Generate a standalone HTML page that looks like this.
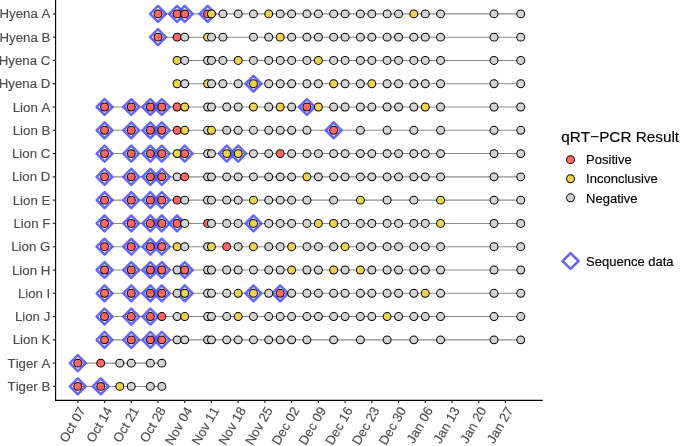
<!DOCTYPE html>
<html lang="en"><head><meta charset="utf-8"><title>qRT-PCR results timeline</title>
<style>html,body{margin:0;padding:0;background:#fff}svg{display:block;will-change:transform}text{font-kerning:none}</style></head>
<body>
<svg width="685" height="446" viewBox="0 0 685 446">
<rect width="685" height="446" fill="#fff"/>
<g stroke="#8C8C8C" stroke-width="1.07" fill="none">
<path d="M157.99 13.89H520.75"/>
<path d="M157.99 37.17H520.75"/>
<path d="M177.08 60.45H520.75"/>
<path d="M177.08 83.74H520.75"/>
<path d="M104.53 107.02H520.75"/>
<path d="M104.53 130.3H520.75"/>
<path d="M104.53 153.58H520.75"/>
<path d="M104.53 176.87H520.75"/>
<path d="M104.53 200.15H520.75"/>
<path d="M104.53 223.43H520.75"/>
<path d="M104.53 246.71H520.75"/>
<path d="M104.53 270H520.75"/>
<path d="M104.53 293.28H520.75"/>
<path d="M104.53 316.56H520.75"/>
<path d="M104.53 339.84H520.75"/>
<path d="M77.8 363.13H161.81"/>
<path d="M77.8 386.41H161.81"/>
</g>
<g stroke="#5555FF" stroke-opacity="0.9" stroke-width="2.55" fill="none" stroke-linejoin="round">
<path d="M157.99 5.94L165.94 13.89L157.99 21.84L150.04 13.89Z"/>
<path d="M177.08 5.94L185.03 13.89L177.08 21.84L169.13 13.89Z"/>
<path d="M184.72 5.94L192.67 13.89L184.72 21.84L176.77 13.89Z"/>
<path d="M207.63 5.94L215.58 13.89L207.63 21.84L199.68 13.89Z"/>
<path d="M157.99 29.22L165.94 37.17L157.99 45.12L150.04 37.17Z"/>
<path d="M253.45 75.79L261.4 83.74L253.45 91.69L245.5 83.74Z"/>
<path d="M104.53 99.07L112.48 107.02L104.53 114.97L96.58 107.02Z"/>
<path d="M131.26 99.07L139.21 107.02L131.26 114.97L123.31 107.02Z"/>
<path d="M150.35 99.07L158.3 107.02L150.35 114.97L142.4 107.02Z"/>
<path d="M161.81 99.07L169.76 107.02L161.81 114.97L153.86 107.02Z"/>
<path d="M306.91 99.07L314.86 107.02L306.91 114.97L298.96 107.02Z"/>
<path d="M104.53 122.35L112.48 130.3L104.53 138.25L96.58 130.3Z"/>
<path d="M131.26 122.35L139.21 130.3L131.26 138.25L123.31 130.3Z"/>
<path d="M150.35 122.35L158.3 130.3L150.35 138.25L142.4 130.3Z"/>
<path d="M161.81 122.35L169.76 130.3L161.81 138.25L153.86 130.3Z"/>
<path d="M333.64 122.35L341.59 130.3L333.64 138.25L325.69 130.3Z"/>
<path d="M104.53 145.63L112.48 153.58L104.53 161.53L96.58 153.58Z"/>
<path d="M131.26 145.63L139.21 153.58L131.26 161.53L123.31 153.58Z"/>
<path d="M150.35 145.63L158.3 153.58L150.35 161.53L142.4 153.58Z"/>
<path d="M161.81 145.63L169.76 153.58L161.81 161.53L153.86 153.58Z"/>
<path d="M184.72 145.63L192.67 153.58L184.72 161.53L176.77 153.58Z"/>
<path d="M226.72 145.63L234.67 153.58L226.72 161.53L218.77 153.58Z"/>
<path d="M238.18 145.63L246.13 153.58L238.18 161.53L230.23 153.58Z"/>
<path d="M104.53 168.92L112.48 176.87L104.53 184.82L96.58 176.87Z"/>
<path d="M131.26 168.92L139.21 176.87L131.26 184.82L123.31 176.87Z"/>
<path d="M150.35 168.92L158.3 176.87L150.35 184.82L142.4 176.87Z"/>
<path d="M161.81 168.92L169.76 176.87L161.81 184.82L153.86 176.87Z"/>
<path d="M104.53 192.2L112.48 200.15L104.53 208.1L96.58 200.15Z"/>
<path d="M131.26 192.2L139.21 200.15L131.26 208.1L123.31 200.15Z"/>
<path d="M150.35 192.2L158.3 200.15L150.35 208.1L142.4 200.15Z"/>
<path d="M161.81 192.2L169.76 200.15L161.81 208.1L153.86 200.15Z"/>
<path d="M104.53 215.48L112.48 223.43L104.53 231.38L96.58 223.43Z"/>
<path d="M131.26 215.48L139.21 223.43L131.26 231.38L123.31 223.43Z"/>
<path d="M150.35 215.48L158.3 223.43L150.35 231.38L142.4 223.43Z"/>
<path d="M161.81 215.48L169.76 223.43L161.81 231.38L153.86 223.43Z"/>
<path d="M177.08 215.48L185.03 223.43L177.08 231.38L169.13 223.43Z"/>
<path d="M253.45 215.48L261.4 223.43L253.45 231.38L245.5 223.43Z"/>
<path d="M104.53 238.76L112.48 246.71L104.53 254.66L96.58 246.71Z"/>
<path d="M131.26 238.76L139.21 246.71L131.26 254.66L123.31 246.71Z"/>
<path d="M150.35 238.76L158.3 246.71L150.35 254.66L142.4 246.71Z"/>
<path d="M161.81 238.76L169.76 246.71L161.81 254.66L153.86 246.71Z"/>
<path d="M104.53 262.05L112.48 270L104.53 277.95L96.58 270Z"/>
<path d="M131.26 262.05L139.21 270L131.26 277.95L123.31 270Z"/>
<path d="M150.35 262.05L158.3 270L150.35 277.95L142.4 270Z"/>
<path d="M161.81 262.05L169.76 270L161.81 277.95L153.86 270Z"/>
<path d="M184.72 262.05L192.67 270L184.72 277.95L176.77 270Z"/>
<path d="M104.53 285.33L112.48 293.28L104.53 301.23L96.58 293.28Z"/>
<path d="M131.26 285.33L139.21 293.28L131.26 301.23L123.31 293.28Z"/>
<path d="M150.35 285.33L158.3 293.28L150.35 301.23L142.4 293.28Z"/>
<path d="M161.81 285.33L169.76 293.28L161.81 301.23L153.86 293.28Z"/>
<path d="M184.72 285.33L192.67 293.28L184.72 301.23L176.77 293.28Z"/>
<path d="M253.45 285.33L261.4 293.28L253.45 301.23L245.5 293.28Z"/>
<path d="M280.18 285.33L288.13 293.28L280.18 301.23L272.23 293.28Z"/>
<path d="M104.53 308.61L112.48 316.56L104.53 324.51L96.58 316.56Z"/>
<path d="M131.26 308.61L139.21 316.56L131.26 324.51L123.31 316.56Z"/>
<path d="M150.35 308.61L158.3 316.56L150.35 324.51L142.4 316.56Z"/>
<path d="M104.53 331.89L112.48 339.84L104.53 347.79L96.58 339.84Z"/>
<path d="M131.26 331.89L139.21 339.84L131.26 347.79L123.31 339.84Z"/>
<path d="M150.35 331.89L158.3 339.84L150.35 347.79L142.4 339.84Z"/>
<path d="M161.81 331.89L169.76 339.84L161.81 347.79L153.86 339.84Z"/>
<path d="M77.8 355.18L85.75 363.13L77.8 371.08L69.85 363.13Z"/>
<path d="M77.8 378.46L85.75 386.41L77.8 394.36L69.85 386.41Z"/>
<path d="M100.71 378.46L108.66 386.41L100.71 394.36L92.76 386.41Z"/>
</g>
<g>
<circle cx="157.99" cy="13.89" r="4.45"/><circle cx="157.99" cy="13.89" r="3.45" fill="#FF6666"/>
<circle cx="177.08" cy="13.89" r="4.45"/><circle cx="177.08" cy="13.89" r="3.45" fill="#FF6666"/>
<circle cx="184.72" cy="13.89" r="4.45"/><circle cx="184.72" cy="13.89" r="3.45" fill="#FF6666"/>
<circle cx="207.63" cy="13.89" r="4.45"/><circle cx="207.63" cy="13.89" r="3.45" fill="#FF6666"/>
<circle cx="211.45" cy="13.89" r="4.45"/><circle cx="211.45" cy="13.89" r="3.45" fill="#ECD350"/>
<circle cx="222.9" cy="13.89" r="4.45"/><circle cx="222.9" cy="13.89" r="3.45" fill="#D3D3D3"/>
<circle cx="238.18" cy="13.89" r="4.45"/><circle cx="238.18" cy="13.89" r="3.45" fill="#D3D3D3"/>
<circle cx="253.45" cy="13.89" r="4.45"/><circle cx="253.45" cy="13.89" r="3.45" fill="#D3D3D3"/>
<circle cx="268.72" cy="13.89" r="4.45"/><circle cx="268.72" cy="13.89" r="3.45" fill="#ECD350"/>
<circle cx="280.18" cy="13.89" r="4.45"/><circle cx="280.18" cy="13.89" r="3.45" fill="#D3D3D3"/>
<circle cx="291.64" cy="13.89" r="4.45"/><circle cx="291.64" cy="13.89" r="3.45" fill="#D3D3D3"/>
<circle cx="306.91" cy="13.89" r="4.45"/><circle cx="306.91" cy="13.89" r="3.45" fill="#D3D3D3"/>
<circle cx="318.37" cy="13.89" r="4.45"/><circle cx="318.37" cy="13.89" r="3.45" fill="#D3D3D3"/>
<circle cx="333.64" cy="13.89" r="4.45"/><circle cx="333.64" cy="13.89" r="3.45" fill="#D3D3D3"/>
<circle cx="345.09" cy="13.89" r="4.45"/><circle cx="345.09" cy="13.89" r="3.45" fill="#D3D3D3"/>
<circle cx="360.37" cy="13.89" r="4.45"/><circle cx="360.37" cy="13.89" r="3.45" fill="#D3D3D3"/>
<circle cx="371.82" cy="13.89" r="4.45"/><circle cx="371.82" cy="13.89" r="3.45" fill="#D3D3D3"/>
<circle cx="387.1" cy="13.89" r="4.45"/><circle cx="387.1" cy="13.89" r="3.45" fill="#D3D3D3"/>
<circle cx="398.55" cy="13.89" r="4.45"/><circle cx="398.55" cy="13.89" r="3.45" fill="#D3D3D3"/>
<circle cx="413.83" cy="13.89" r="4.45"/><circle cx="413.83" cy="13.89" r="3.45" fill="#ECD350"/>
<circle cx="425.28" cy="13.89" r="4.45"/><circle cx="425.28" cy="13.89" r="3.45" fill="#D3D3D3"/>
<circle cx="440.56" cy="13.89" r="4.45"/><circle cx="440.56" cy="13.89" r="3.45" fill="#D3D3D3"/>
<circle cx="494.02" cy="13.89" r="4.45"/><circle cx="494.02" cy="13.89" r="3.45" fill="#D3D3D3"/>
<circle cx="520.75" cy="13.89" r="4.45"/><circle cx="520.75" cy="13.89" r="3.45" fill="#D3D3D3"/>
<circle cx="157.99" cy="37.17" r="4.45"/><circle cx="157.99" cy="37.17" r="3.45" fill="#FF6666"/>
<circle cx="177.08" cy="37.17" r="4.45"/><circle cx="177.08" cy="37.17" r="3.45" fill="#FF6666"/>
<circle cx="184.72" cy="37.17" r="4.45"/><circle cx="184.72" cy="37.17" r="3.45" fill="#D3D3D3"/>
<circle cx="207.63" cy="37.17" r="4.45"/><circle cx="207.63" cy="37.17" r="3.45" fill="#ECD350"/>
<circle cx="211.45" cy="37.17" r="4.45"/><circle cx="211.45" cy="37.17" r="3.45" fill="#D3D3D3"/>
<circle cx="222.9" cy="37.17" r="4.45"/><circle cx="222.9" cy="37.17" r="3.45" fill="#D3D3D3"/>
<circle cx="253.45" cy="37.17" r="4.45"/><circle cx="253.45" cy="37.17" r="3.45" fill="#D3D3D3"/>
<circle cx="268.72" cy="37.17" r="4.45"/><circle cx="268.72" cy="37.17" r="3.45" fill="#D3D3D3"/>
<circle cx="280.18" cy="37.17" r="4.45"/><circle cx="280.18" cy="37.17" r="3.45" fill="#ECD350"/>
<circle cx="291.64" cy="37.17" r="4.45"/><circle cx="291.64" cy="37.17" r="3.45" fill="#D3D3D3"/>
<circle cx="306.91" cy="37.17" r="4.45"/><circle cx="306.91" cy="37.17" r="3.45" fill="#D3D3D3"/>
<circle cx="318.37" cy="37.17" r="4.45"/><circle cx="318.37" cy="37.17" r="3.45" fill="#D3D3D3"/>
<circle cx="333.64" cy="37.17" r="4.45"/><circle cx="333.64" cy="37.17" r="3.45" fill="#D3D3D3"/>
<circle cx="345.09" cy="37.17" r="4.45"/><circle cx="345.09" cy="37.17" r="3.45" fill="#D3D3D3"/>
<circle cx="360.37" cy="37.17" r="4.45"/><circle cx="360.37" cy="37.17" r="3.45" fill="#D3D3D3"/>
<circle cx="371.82" cy="37.17" r="4.45"/><circle cx="371.82" cy="37.17" r="3.45" fill="#D3D3D3"/>
<circle cx="387.1" cy="37.17" r="4.45"/><circle cx="387.1" cy="37.17" r="3.45" fill="#D3D3D3"/>
<circle cx="398.55" cy="37.17" r="4.45"/><circle cx="398.55" cy="37.17" r="3.45" fill="#D3D3D3"/>
<circle cx="413.83" cy="37.17" r="4.45"/><circle cx="413.83" cy="37.17" r="3.45" fill="#D3D3D3"/>
<circle cx="425.28" cy="37.17" r="4.45"/><circle cx="425.28" cy="37.17" r="3.45" fill="#D3D3D3"/>
<circle cx="440.56" cy="37.17" r="4.45"/><circle cx="440.56" cy="37.17" r="3.45" fill="#D3D3D3"/>
<circle cx="494.02" cy="37.17" r="4.45"/><circle cx="494.02" cy="37.17" r="3.45" fill="#D3D3D3"/>
<circle cx="520.75" cy="37.17" r="4.45"/><circle cx="520.75" cy="37.17" r="3.45" fill="#D3D3D3"/>
<circle cx="177.08" cy="60.45" r="4.45"/><circle cx="177.08" cy="60.45" r="3.45" fill="#ECD350"/>
<circle cx="184.72" cy="60.45" r="4.45"/><circle cx="184.72" cy="60.45" r="3.45" fill="#D3D3D3"/>
<circle cx="207.63" cy="60.45" r="4.45"/><circle cx="207.63" cy="60.45" r="3.45" fill="#D3D3D3"/>
<circle cx="211.45" cy="60.45" r="4.45"/><circle cx="211.45" cy="60.45" r="3.45" fill="#D3D3D3"/>
<circle cx="222.9" cy="60.45" r="4.45"/><circle cx="222.9" cy="60.45" r="3.45" fill="#D3D3D3"/>
<circle cx="238.18" cy="60.45" r="4.45"/><circle cx="238.18" cy="60.45" r="3.45" fill="#ECD350"/>
<circle cx="253.45" cy="60.45" r="4.45"/><circle cx="253.45" cy="60.45" r="3.45" fill="#D3D3D3"/>
<circle cx="268.72" cy="60.45" r="4.45"/><circle cx="268.72" cy="60.45" r="3.45" fill="#D3D3D3"/>
<circle cx="280.18" cy="60.45" r="4.45"/><circle cx="280.18" cy="60.45" r="3.45" fill="#D3D3D3"/>
<circle cx="291.64" cy="60.45" r="4.45"/><circle cx="291.64" cy="60.45" r="3.45" fill="#D3D3D3"/>
<circle cx="306.91" cy="60.45" r="4.45"/><circle cx="306.91" cy="60.45" r="3.45" fill="#D3D3D3"/>
<circle cx="318.37" cy="60.45" r="4.45"/><circle cx="318.37" cy="60.45" r="3.45" fill="#ECD350"/>
<circle cx="333.64" cy="60.45" r="4.45"/><circle cx="333.64" cy="60.45" r="3.45" fill="#D3D3D3"/>
<circle cx="345.09" cy="60.45" r="4.45"/><circle cx="345.09" cy="60.45" r="3.45" fill="#D3D3D3"/>
<circle cx="360.37" cy="60.45" r="4.45"/><circle cx="360.37" cy="60.45" r="3.45" fill="#D3D3D3"/>
<circle cx="371.82" cy="60.45" r="4.45"/><circle cx="371.82" cy="60.45" r="3.45" fill="#D3D3D3"/>
<circle cx="387.1" cy="60.45" r="4.45"/><circle cx="387.1" cy="60.45" r="3.45" fill="#D3D3D3"/>
<circle cx="398.55" cy="60.45" r="4.45"/><circle cx="398.55" cy="60.45" r="3.45" fill="#D3D3D3"/>
<circle cx="413.83" cy="60.45" r="4.45"/><circle cx="413.83" cy="60.45" r="3.45" fill="#D3D3D3"/>
<circle cx="425.28" cy="60.45" r="4.45"/><circle cx="425.28" cy="60.45" r="3.45" fill="#D3D3D3"/>
<circle cx="440.56" cy="60.45" r="4.45"/><circle cx="440.56" cy="60.45" r="3.45" fill="#D3D3D3"/>
<circle cx="494.02" cy="60.45" r="4.45"/><circle cx="494.02" cy="60.45" r="3.45" fill="#D3D3D3"/>
<circle cx="520.75" cy="60.45" r="4.45"/><circle cx="520.75" cy="60.45" r="3.45" fill="#D3D3D3"/>
<circle cx="177.08" cy="83.74" r="4.45"/><circle cx="177.08" cy="83.74" r="3.45" fill="#ECD350"/>
<circle cx="184.72" cy="83.74" r="4.45"/><circle cx="184.72" cy="83.74" r="3.45" fill="#D3D3D3"/>
<circle cx="207.63" cy="83.74" r="4.45"/><circle cx="207.63" cy="83.74" r="3.45" fill="#ECD350"/>
<circle cx="211.45" cy="83.74" r="4.45"/><circle cx="211.45" cy="83.74" r="3.45" fill="#D3D3D3"/>
<circle cx="222.9" cy="83.74" r="4.45"/><circle cx="222.9" cy="83.74" r="3.45" fill="#D3D3D3"/>
<circle cx="238.18" cy="83.74" r="4.45"/><circle cx="238.18" cy="83.74" r="3.45" fill="#D3D3D3"/>
<circle cx="253.45" cy="83.74" r="4.45"/><circle cx="253.45" cy="83.74" r="3.45" fill="#ECD350"/>
<circle cx="268.72" cy="83.74" r="4.45"/><circle cx="268.72" cy="83.74" r="3.45" fill="#D3D3D3"/>
<circle cx="280.18" cy="83.74" r="4.45"/><circle cx="280.18" cy="83.74" r="3.45" fill="#D3D3D3"/>
<circle cx="291.64" cy="83.74" r="4.45"/><circle cx="291.64" cy="83.74" r="3.45" fill="#D3D3D3"/>
<circle cx="306.91" cy="83.74" r="4.45"/><circle cx="306.91" cy="83.74" r="3.45" fill="#D3D3D3"/>
<circle cx="318.37" cy="83.74" r="4.45"/><circle cx="318.37" cy="83.74" r="3.45" fill="#D3D3D3"/>
<circle cx="333.64" cy="83.74" r="4.45"/><circle cx="333.64" cy="83.74" r="3.45" fill="#ECD350"/>
<circle cx="345.09" cy="83.74" r="4.45"/><circle cx="345.09" cy="83.74" r="3.45" fill="#D3D3D3"/>
<circle cx="360.37" cy="83.74" r="4.45"/><circle cx="360.37" cy="83.74" r="3.45" fill="#D3D3D3"/>
<circle cx="371.82" cy="83.74" r="4.45"/><circle cx="371.82" cy="83.74" r="3.45" fill="#ECD350"/>
<circle cx="387.1" cy="83.74" r="4.45"/><circle cx="387.1" cy="83.74" r="3.45" fill="#D3D3D3"/>
<circle cx="398.55" cy="83.74" r="4.45"/><circle cx="398.55" cy="83.74" r="3.45" fill="#D3D3D3"/>
<circle cx="413.83" cy="83.74" r="4.45"/><circle cx="413.83" cy="83.74" r="3.45" fill="#D3D3D3"/>
<circle cx="425.28" cy="83.74" r="4.45"/><circle cx="425.28" cy="83.74" r="3.45" fill="#D3D3D3"/>
<circle cx="440.56" cy="83.74" r="4.45"/><circle cx="440.56" cy="83.74" r="3.45" fill="#D3D3D3"/>
<circle cx="494.02" cy="83.74" r="4.45"/><circle cx="494.02" cy="83.74" r="3.45" fill="#D3D3D3"/>
<circle cx="520.75" cy="83.74" r="4.45"/><circle cx="520.75" cy="83.74" r="3.45" fill="#D3D3D3"/>
<circle cx="104.53" cy="107.02" r="4.45"/><circle cx="104.53" cy="107.02" r="3.45" fill="#FF6666"/>
<circle cx="131.26" cy="107.02" r="4.45"/><circle cx="131.26" cy="107.02" r="3.45" fill="#FF6666"/>
<circle cx="150.35" cy="107.02" r="4.45"/><circle cx="150.35" cy="107.02" r="3.45" fill="#FF6666"/>
<circle cx="161.81" cy="107.02" r="4.45"/><circle cx="161.81" cy="107.02" r="3.45" fill="#FF6666"/>
<circle cx="177.08" cy="107.02" r="4.45"/><circle cx="177.08" cy="107.02" r="3.45" fill="#FF6666"/>
<circle cx="184.72" cy="107.02" r="4.45"/><circle cx="184.72" cy="107.02" r="3.45" fill="#ECD350"/>
<circle cx="207.63" cy="107.02" r="4.45"/><circle cx="207.63" cy="107.02" r="3.45" fill="#D3D3D3"/>
<circle cx="211.45" cy="107.02" r="4.45"/><circle cx="211.45" cy="107.02" r="3.45" fill="#D3D3D3"/>
<circle cx="226.72" cy="107.02" r="4.45"/><circle cx="226.72" cy="107.02" r="3.45" fill="#D3D3D3"/>
<circle cx="238.18" cy="107.02" r="4.45"/><circle cx="238.18" cy="107.02" r="3.45" fill="#D3D3D3"/>
<circle cx="253.45" cy="107.02" r="4.45"/><circle cx="253.45" cy="107.02" r="3.45" fill="#ECD350"/>
<circle cx="268.72" cy="107.02" r="4.45"/><circle cx="268.72" cy="107.02" r="3.45" fill="#D3D3D3"/>
<circle cx="280.18" cy="107.02" r="4.45"/><circle cx="280.18" cy="107.02" r="3.45" fill="#ECD350"/>
<circle cx="291.64" cy="107.02" r="4.45"/><circle cx="291.64" cy="107.02" r="3.45" fill="#D3D3D3"/>
<circle cx="306.91" cy="107.02" r="4.45"/><circle cx="306.91" cy="107.02" r="3.45" fill="#FF6666"/>
<circle cx="318.37" cy="107.02" r="4.45"/><circle cx="318.37" cy="107.02" r="3.45" fill="#ECD350"/>
<circle cx="333.64" cy="107.02" r="4.45"/><circle cx="333.64" cy="107.02" r="3.45" fill="#D3D3D3"/>
<circle cx="345.09" cy="107.02" r="4.45"/><circle cx="345.09" cy="107.02" r="3.45" fill="#D3D3D3"/>
<circle cx="360.37" cy="107.02" r="4.45"/><circle cx="360.37" cy="107.02" r="3.45" fill="#D3D3D3"/>
<circle cx="371.82" cy="107.02" r="4.45"/><circle cx="371.82" cy="107.02" r="3.45" fill="#D3D3D3"/>
<circle cx="387.1" cy="107.02" r="4.45"/><circle cx="387.1" cy="107.02" r="3.45" fill="#D3D3D3"/>
<circle cx="398.55" cy="107.02" r="4.45"/><circle cx="398.55" cy="107.02" r="3.45" fill="#D3D3D3"/>
<circle cx="413.83" cy="107.02" r="4.45"/><circle cx="413.83" cy="107.02" r="3.45" fill="#D3D3D3"/>
<circle cx="425.28" cy="107.02" r="4.45"/><circle cx="425.28" cy="107.02" r="3.45" fill="#ECD350"/>
<circle cx="440.56" cy="107.02" r="4.45"/><circle cx="440.56" cy="107.02" r="3.45" fill="#D3D3D3"/>
<circle cx="494.02" cy="107.02" r="4.45"/><circle cx="494.02" cy="107.02" r="3.45" fill="#D3D3D3"/>
<circle cx="520.75" cy="107.02" r="4.45"/><circle cx="520.75" cy="107.02" r="3.45" fill="#D3D3D3"/>
<circle cx="104.53" cy="130.3" r="4.45"/><circle cx="104.53" cy="130.3" r="3.45" fill="#FF6666"/>
<circle cx="131.26" cy="130.3" r="4.45"/><circle cx="131.26" cy="130.3" r="3.45" fill="#FF6666"/>
<circle cx="150.35" cy="130.3" r="4.45"/><circle cx="150.35" cy="130.3" r="3.45" fill="#FF6666"/>
<circle cx="161.81" cy="130.3" r="4.45"/><circle cx="161.81" cy="130.3" r="3.45" fill="#FF6666"/>
<circle cx="177.08" cy="130.3" r="4.45"/><circle cx="177.08" cy="130.3" r="3.45" fill="#FF6666"/>
<circle cx="184.72" cy="130.3" r="4.45"/><circle cx="184.72" cy="130.3" r="3.45" fill="#ECD350"/>
<circle cx="207.63" cy="130.3" r="4.45"/><circle cx="207.63" cy="130.3" r="3.45" fill="#D3D3D3"/>
<circle cx="211.45" cy="130.3" r="4.45"/><circle cx="211.45" cy="130.3" r="3.45" fill="#ECD350"/>
<circle cx="226.72" cy="130.3" r="4.45"/><circle cx="226.72" cy="130.3" r="3.45" fill="#D3D3D3"/>
<circle cx="238.18" cy="130.3" r="4.45"/><circle cx="238.18" cy="130.3" r="3.45" fill="#D3D3D3"/>
<circle cx="253.45" cy="130.3" r="4.45"/><circle cx="253.45" cy="130.3" r="3.45" fill="#D3D3D3"/>
<circle cx="268.72" cy="130.3" r="4.45"/><circle cx="268.72" cy="130.3" r="3.45" fill="#D3D3D3"/>
<circle cx="280.18" cy="130.3" r="4.45"/><circle cx="280.18" cy="130.3" r="3.45" fill="#D3D3D3"/>
<circle cx="291.64" cy="130.3" r="4.45"/><circle cx="291.64" cy="130.3" r="3.45" fill="#D3D3D3"/>
<circle cx="306.91" cy="130.3" r="4.45"/><circle cx="306.91" cy="130.3" r="3.45" fill="#D3D3D3"/>
<circle cx="333.64" cy="130.3" r="4.45"/><circle cx="333.64" cy="130.3" r="3.45" fill="#FF6666"/>
<circle cx="360.37" cy="130.3" r="4.45"/><circle cx="360.37" cy="130.3" r="3.45" fill="#D3D3D3"/>
<circle cx="387.1" cy="130.3" r="4.45"/><circle cx="387.1" cy="130.3" r="3.45" fill="#D3D3D3"/>
<circle cx="413.83" cy="130.3" r="4.45"/><circle cx="413.83" cy="130.3" r="3.45" fill="#D3D3D3"/>
<circle cx="440.56" cy="130.3" r="4.45"/><circle cx="440.56" cy="130.3" r="3.45" fill="#D3D3D3"/>
<circle cx="494.02" cy="130.3" r="4.45"/><circle cx="494.02" cy="130.3" r="3.45" fill="#D3D3D3"/>
<circle cx="520.75" cy="130.3" r="4.45"/><circle cx="520.75" cy="130.3" r="3.45" fill="#D3D3D3"/>
<circle cx="104.53" cy="153.58" r="4.45"/><circle cx="104.53" cy="153.58" r="3.45" fill="#FF6666"/>
<circle cx="131.26" cy="153.58" r="4.45"/><circle cx="131.26" cy="153.58" r="3.45" fill="#FF6666"/>
<circle cx="150.35" cy="153.58" r="4.45"/><circle cx="150.35" cy="153.58" r="3.45" fill="#FF6666"/>
<circle cx="161.81" cy="153.58" r="4.45"/><circle cx="161.81" cy="153.58" r="3.45" fill="#FF6666"/>
<circle cx="177.08" cy="153.58" r="4.45"/><circle cx="177.08" cy="153.58" r="3.45" fill="#ECD350"/>
<circle cx="184.72" cy="153.58" r="4.45"/><circle cx="184.72" cy="153.58" r="3.45" fill="#FF6666"/>
<circle cx="207.63" cy="153.58" r="4.45"/><circle cx="207.63" cy="153.58" r="3.45" fill="#D3D3D3"/>
<circle cx="211.45" cy="153.58" r="4.45"/><circle cx="211.45" cy="153.58" r="3.45" fill="#D3D3D3"/>
<circle cx="226.72" cy="153.58" r="4.45"/><circle cx="226.72" cy="153.58" r="3.45" fill="#ECD350"/>
<circle cx="238.18" cy="153.58" r="4.45"/><circle cx="238.18" cy="153.58" r="3.45" fill="#ECD350"/>
<circle cx="253.45" cy="153.58" r="4.45"/><circle cx="253.45" cy="153.58" r="3.45" fill="#D3D3D3"/>
<circle cx="268.72" cy="153.58" r="4.45"/><circle cx="268.72" cy="153.58" r="3.45" fill="#D3D3D3"/>
<circle cx="280.18" cy="153.58" r="4.45"/><circle cx="280.18" cy="153.58" r="3.45" fill="#FF6666"/>
<circle cx="291.64" cy="153.58" r="4.45"/><circle cx="291.64" cy="153.58" r="3.45" fill="#D3D3D3"/>
<circle cx="306.91" cy="153.58" r="4.45"/><circle cx="306.91" cy="153.58" r="3.45" fill="#D3D3D3"/>
<circle cx="318.37" cy="153.58" r="4.45"/><circle cx="318.37" cy="153.58" r="3.45" fill="#D3D3D3"/>
<circle cx="333.64" cy="153.58" r="4.45"/><circle cx="333.64" cy="153.58" r="3.45" fill="#D3D3D3"/>
<circle cx="345.09" cy="153.58" r="4.45"/><circle cx="345.09" cy="153.58" r="3.45" fill="#D3D3D3"/>
<circle cx="360.37" cy="153.58" r="4.45"/><circle cx="360.37" cy="153.58" r="3.45" fill="#D3D3D3"/>
<circle cx="371.82" cy="153.58" r="4.45"/><circle cx="371.82" cy="153.58" r="3.45" fill="#D3D3D3"/>
<circle cx="387.1" cy="153.58" r="4.45"/><circle cx="387.1" cy="153.58" r="3.45" fill="#D3D3D3"/>
<circle cx="398.55" cy="153.58" r="4.45"/><circle cx="398.55" cy="153.58" r="3.45" fill="#D3D3D3"/>
<circle cx="413.83" cy="153.58" r="4.45"/><circle cx="413.83" cy="153.58" r="3.45" fill="#D3D3D3"/>
<circle cx="425.28" cy="153.58" r="4.45"/><circle cx="425.28" cy="153.58" r="3.45" fill="#D3D3D3"/>
<circle cx="440.56" cy="153.58" r="4.45"/><circle cx="440.56" cy="153.58" r="3.45" fill="#D3D3D3"/>
<circle cx="494.02" cy="153.58" r="4.45"/><circle cx="494.02" cy="153.58" r="3.45" fill="#D3D3D3"/>
<circle cx="520.75" cy="153.58" r="4.45"/><circle cx="520.75" cy="153.58" r="3.45" fill="#D3D3D3"/>
<circle cx="104.53" cy="176.87" r="4.45"/><circle cx="104.53" cy="176.87" r="3.45" fill="#FF6666"/>
<circle cx="131.26" cy="176.87" r="4.45"/><circle cx="131.26" cy="176.87" r="3.45" fill="#FF6666"/>
<circle cx="150.35" cy="176.87" r="4.45"/><circle cx="150.35" cy="176.87" r="3.45" fill="#FF6666"/>
<circle cx="161.81" cy="176.87" r="4.45"/><circle cx="161.81" cy="176.87" r="3.45" fill="#FF6666"/>
<circle cx="177.08" cy="176.87" r="4.45"/><circle cx="177.08" cy="176.87" r="3.45" fill="#D3D3D3"/>
<circle cx="184.72" cy="176.87" r="4.45"/><circle cx="184.72" cy="176.87" r="3.45" fill="#FF6666"/>
<circle cx="207.63" cy="176.87" r="4.45"/><circle cx="207.63" cy="176.87" r="3.45" fill="#D3D3D3"/>
<circle cx="211.45" cy="176.87" r="4.45"/><circle cx="211.45" cy="176.87" r="3.45" fill="#D3D3D3"/>
<circle cx="226.72" cy="176.87" r="4.45"/><circle cx="226.72" cy="176.87" r="3.45" fill="#D3D3D3"/>
<circle cx="238.18" cy="176.87" r="4.45"/><circle cx="238.18" cy="176.87" r="3.45" fill="#D3D3D3"/>
<circle cx="253.45" cy="176.87" r="4.45"/><circle cx="253.45" cy="176.87" r="3.45" fill="#D3D3D3"/>
<circle cx="268.72" cy="176.87" r="4.45"/><circle cx="268.72" cy="176.87" r="3.45" fill="#D3D3D3"/>
<circle cx="280.18" cy="176.87" r="4.45"/><circle cx="280.18" cy="176.87" r="3.45" fill="#D3D3D3"/>
<circle cx="291.64" cy="176.87" r="4.45"/><circle cx="291.64" cy="176.87" r="3.45" fill="#D3D3D3"/>
<circle cx="306.91" cy="176.87" r="4.45"/><circle cx="306.91" cy="176.87" r="3.45" fill="#ECD350"/>
<circle cx="318.37" cy="176.87" r="4.45"/><circle cx="318.37" cy="176.87" r="3.45" fill="#D3D3D3"/>
<circle cx="333.64" cy="176.87" r="4.45"/><circle cx="333.64" cy="176.87" r="3.45" fill="#D3D3D3"/>
<circle cx="345.09" cy="176.87" r="4.45"/><circle cx="345.09" cy="176.87" r="3.45" fill="#D3D3D3"/>
<circle cx="360.37" cy="176.87" r="4.45"/><circle cx="360.37" cy="176.87" r="3.45" fill="#D3D3D3"/>
<circle cx="371.82" cy="176.87" r="4.45"/><circle cx="371.82" cy="176.87" r="3.45" fill="#D3D3D3"/>
<circle cx="387.1" cy="176.87" r="4.45"/><circle cx="387.1" cy="176.87" r="3.45" fill="#D3D3D3"/>
<circle cx="398.55" cy="176.87" r="4.45"/><circle cx="398.55" cy="176.87" r="3.45" fill="#D3D3D3"/>
<circle cx="413.83" cy="176.87" r="4.45"/><circle cx="413.83" cy="176.87" r="3.45" fill="#D3D3D3"/>
<circle cx="425.28" cy="176.87" r="4.45"/><circle cx="425.28" cy="176.87" r="3.45" fill="#D3D3D3"/>
<circle cx="440.56" cy="176.87" r="4.45"/><circle cx="440.56" cy="176.87" r="3.45" fill="#D3D3D3"/>
<circle cx="494.02" cy="176.87" r="4.45"/><circle cx="494.02" cy="176.87" r="3.45" fill="#D3D3D3"/>
<circle cx="520.75" cy="176.87" r="4.45"/><circle cx="520.75" cy="176.87" r="3.45" fill="#D3D3D3"/>
<circle cx="104.53" cy="200.15" r="4.45"/><circle cx="104.53" cy="200.15" r="3.45" fill="#FF6666"/>
<circle cx="131.26" cy="200.15" r="4.45"/><circle cx="131.26" cy="200.15" r="3.45" fill="#FF6666"/>
<circle cx="150.35" cy="200.15" r="4.45"/><circle cx="150.35" cy="200.15" r="3.45" fill="#FF6666"/>
<circle cx="161.81" cy="200.15" r="4.45"/><circle cx="161.81" cy="200.15" r="3.45" fill="#FF6666"/>
<circle cx="177.08" cy="200.15" r="4.45"/><circle cx="177.08" cy="200.15" r="3.45" fill="#FF6666"/>
<circle cx="184.72" cy="200.15" r="4.45"/><circle cx="184.72" cy="200.15" r="3.45" fill="#D3D3D3"/>
<circle cx="207.63" cy="200.15" r="4.45"/><circle cx="207.63" cy="200.15" r="3.45" fill="#D3D3D3"/>
<circle cx="211.45" cy="200.15" r="4.45"/><circle cx="211.45" cy="200.15" r="3.45" fill="#D3D3D3"/>
<circle cx="226.72" cy="200.15" r="4.45"/><circle cx="226.72" cy="200.15" r="3.45" fill="#D3D3D3"/>
<circle cx="238.18" cy="200.15" r="4.45"/><circle cx="238.18" cy="200.15" r="3.45" fill="#D3D3D3"/>
<circle cx="253.45" cy="200.15" r="4.45"/><circle cx="253.45" cy="200.15" r="3.45" fill="#ECD350"/>
<circle cx="268.72" cy="200.15" r="4.45"/><circle cx="268.72" cy="200.15" r="3.45" fill="#D3D3D3"/>
<circle cx="280.18" cy="200.15" r="4.45"/><circle cx="280.18" cy="200.15" r="3.45" fill="#D3D3D3"/>
<circle cx="291.64" cy="200.15" r="4.45"/><circle cx="291.64" cy="200.15" r="3.45" fill="#D3D3D3"/>
<circle cx="306.91" cy="200.15" r="4.45"/><circle cx="306.91" cy="200.15" r="3.45" fill="#D3D3D3"/>
<circle cx="333.64" cy="200.15" r="4.45"/><circle cx="333.64" cy="200.15" r="3.45" fill="#D3D3D3"/>
<circle cx="360.37" cy="200.15" r="4.45"/><circle cx="360.37" cy="200.15" r="3.45" fill="#ECD350"/>
<circle cx="387.1" cy="200.15" r="4.45"/><circle cx="387.1" cy="200.15" r="3.45" fill="#D3D3D3"/>
<circle cx="413.83" cy="200.15" r="4.45"/><circle cx="413.83" cy="200.15" r="3.45" fill="#D3D3D3"/>
<circle cx="440.56" cy="200.15" r="4.45"/><circle cx="440.56" cy="200.15" r="3.45" fill="#ECD350"/>
<circle cx="494.02" cy="200.15" r="4.45"/><circle cx="494.02" cy="200.15" r="3.45" fill="#D3D3D3"/>
<circle cx="520.75" cy="200.15" r="4.45"/><circle cx="520.75" cy="200.15" r="3.45" fill="#D3D3D3"/>
<circle cx="104.53" cy="223.43" r="4.45"/><circle cx="104.53" cy="223.43" r="3.45" fill="#FF6666"/>
<circle cx="131.26" cy="223.43" r="4.45"/><circle cx="131.26" cy="223.43" r="3.45" fill="#FF6666"/>
<circle cx="150.35" cy="223.43" r="4.45"/><circle cx="150.35" cy="223.43" r="3.45" fill="#FF6666"/>
<circle cx="161.81" cy="223.43" r="4.45"/><circle cx="161.81" cy="223.43" r="3.45" fill="#FF6666"/>
<circle cx="177.08" cy="223.43" r="4.45"/><circle cx="177.08" cy="223.43" r="3.45" fill="#FF6666"/>
<circle cx="184.72" cy="223.43" r="4.45"/><circle cx="184.72" cy="223.43" r="3.45" fill="#D3D3D3"/>
<circle cx="207.63" cy="223.43" r="4.45"/><circle cx="207.63" cy="223.43" r="3.45" fill="#FF6666"/>
<circle cx="211.45" cy="223.43" r="4.45"/><circle cx="211.45" cy="223.43" r="3.45" fill="#D3D3D3"/>
<circle cx="226.72" cy="223.43" r="4.45"/><circle cx="226.72" cy="223.43" r="3.45" fill="#D3D3D3"/>
<circle cx="238.18" cy="223.43" r="4.45"/><circle cx="238.18" cy="223.43" r="3.45" fill="#D3D3D3"/>
<circle cx="253.45" cy="223.43" r="4.45"/><circle cx="253.45" cy="223.43" r="3.45" fill="#ECD350"/>
<circle cx="268.72" cy="223.43" r="4.45"/><circle cx="268.72" cy="223.43" r="3.45" fill="#D3D3D3"/>
<circle cx="280.18" cy="223.43" r="4.45"/><circle cx="280.18" cy="223.43" r="3.45" fill="#D3D3D3"/>
<circle cx="291.64" cy="223.43" r="4.45"/><circle cx="291.64" cy="223.43" r="3.45" fill="#D3D3D3"/>
<circle cx="306.91" cy="223.43" r="4.45"/><circle cx="306.91" cy="223.43" r="3.45" fill="#D3D3D3"/>
<circle cx="318.37" cy="223.43" r="4.45"/><circle cx="318.37" cy="223.43" r="3.45" fill="#ECD350"/>
<circle cx="333.64" cy="223.43" r="4.45"/><circle cx="333.64" cy="223.43" r="3.45" fill="#ECD350"/>
<circle cx="345.09" cy="223.43" r="4.45"/><circle cx="345.09" cy="223.43" r="3.45" fill="#D3D3D3"/>
<circle cx="360.37" cy="223.43" r="4.45"/><circle cx="360.37" cy="223.43" r="3.45" fill="#D3D3D3"/>
<circle cx="371.82" cy="223.43" r="4.45"/><circle cx="371.82" cy="223.43" r="3.45" fill="#D3D3D3"/>
<circle cx="387.1" cy="223.43" r="4.45"/><circle cx="387.1" cy="223.43" r="3.45" fill="#D3D3D3"/>
<circle cx="398.55" cy="223.43" r="4.45"/><circle cx="398.55" cy="223.43" r="3.45" fill="#D3D3D3"/>
<circle cx="413.83" cy="223.43" r="4.45"/><circle cx="413.83" cy="223.43" r="3.45" fill="#D3D3D3"/>
<circle cx="425.28" cy="223.43" r="4.45"/><circle cx="425.28" cy="223.43" r="3.45" fill="#D3D3D3"/>
<circle cx="440.56" cy="223.43" r="4.45"/><circle cx="440.56" cy="223.43" r="3.45" fill="#ECD350"/>
<circle cx="494.02" cy="223.43" r="4.45"/><circle cx="494.02" cy="223.43" r="3.45" fill="#D3D3D3"/>
<circle cx="520.75" cy="223.43" r="4.45"/><circle cx="520.75" cy="223.43" r="3.45" fill="#D3D3D3"/>
<circle cx="104.53" cy="246.71" r="4.45"/><circle cx="104.53" cy="246.71" r="3.45" fill="#FF6666"/>
<circle cx="131.26" cy="246.71" r="4.45"/><circle cx="131.26" cy="246.71" r="3.45" fill="#FF6666"/>
<circle cx="150.35" cy="246.71" r="4.45"/><circle cx="150.35" cy="246.71" r="3.45" fill="#FF6666"/>
<circle cx="161.81" cy="246.71" r="4.45"/><circle cx="161.81" cy="246.71" r="3.45" fill="#FF6666"/>
<circle cx="177.08" cy="246.71" r="4.45"/><circle cx="177.08" cy="246.71" r="3.45" fill="#ECD350"/>
<circle cx="184.72" cy="246.71" r="4.45"/><circle cx="184.72" cy="246.71" r="3.45" fill="#D3D3D3"/>
<circle cx="207.63" cy="246.71" r="4.45"/><circle cx="207.63" cy="246.71" r="3.45" fill="#D3D3D3"/>
<circle cx="211.45" cy="246.71" r="4.45"/><circle cx="211.45" cy="246.71" r="3.45" fill="#ECD350"/>
<circle cx="226.72" cy="246.71" r="4.45"/><circle cx="226.72" cy="246.71" r="3.45" fill="#FF6666"/>
<circle cx="238.18" cy="246.71" r="4.45"/><circle cx="238.18" cy="246.71" r="3.45" fill="#D3D3D3"/>
<circle cx="253.45" cy="246.71" r="4.45"/><circle cx="253.45" cy="246.71" r="3.45" fill="#ECD350"/>
<circle cx="268.72" cy="246.71" r="4.45"/><circle cx="268.72" cy="246.71" r="3.45" fill="#D3D3D3"/>
<circle cx="280.18" cy="246.71" r="4.45"/><circle cx="280.18" cy="246.71" r="3.45" fill="#D3D3D3"/>
<circle cx="291.64" cy="246.71" r="4.45"/><circle cx="291.64" cy="246.71" r="3.45" fill="#ECD350"/>
<circle cx="306.91" cy="246.71" r="4.45"/><circle cx="306.91" cy="246.71" r="3.45" fill="#D3D3D3"/>
<circle cx="318.37" cy="246.71" r="4.45"/><circle cx="318.37" cy="246.71" r="3.45" fill="#D3D3D3"/>
<circle cx="333.64" cy="246.71" r="4.45"/><circle cx="333.64" cy="246.71" r="3.45" fill="#D3D3D3"/>
<circle cx="345.09" cy="246.71" r="4.45"/><circle cx="345.09" cy="246.71" r="3.45" fill="#ECD350"/>
<circle cx="360.37" cy="246.71" r="4.45"/><circle cx="360.37" cy="246.71" r="3.45" fill="#D3D3D3"/>
<circle cx="371.82" cy="246.71" r="4.45"/><circle cx="371.82" cy="246.71" r="3.45" fill="#D3D3D3"/>
<circle cx="387.1" cy="246.71" r="4.45"/><circle cx="387.1" cy="246.71" r="3.45" fill="#D3D3D3"/>
<circle cx="398.55" cy="246.71" r="4.45"/><circle cx="398.55" cy="246.71" r="3.45" fill="#D3D3D3"/>
<circle cx="413.83" cy="246.71" r="4.45"/><circle cx="413.83" cy="246.71" r="3.45" fill="#D3D3D3"/>
<circle cx="425.28" cy="246.71" r="4.45"/><circle cx="425.28" cy="246.71" r="3.45" fill="#D3D3D3"/>
<circle cx="440.56" cy="246.71" r="4.45"/><circle cx="440.56" cy="246.71" r="3.45" fill="#D3D3D3"/>
<circle cx="494.02" cy="246.71" r="4.45"/><circle cx="494.02" cy="246.71" r="3.45" fill="#D3D3D3"/>
<circle cx="520.75" cy="246.71" r="4.45"/><circle cx="520.75" cy="246.71" r="3.45" fill="#D3D3D3"/>
<circle cx="104.53" cy="270" r="4.45"/><circle cx="104.53" cy="270" r="3.45" fill="#FF6666"/>
<circle cx="131.26" cy="270" r="4.45"/><circle cx="131.26" cy="270" r="3.45" fill="#FF6666"/>
<circle cx="150.35" cy="270" r="4.45"/><circle cx="150.35" cy="270" r="3.45" fill="#FF6666"/>
<circle cx="161.81" cy="270" r="4.45"/><circle cx="161.81" cy="270" r="3.45" fill="#FF6666"/>
<circle cx="177.08" cy="270" r="4.45"/><circle cx="177.08" cy="270" r="3.45" fill="#D3D3D3"/>
<circle cx="184.72" cy="270" r="4.45"/><circle cx="184.72" cy="270" r="3.45" fill="#FF6666"/>
<circle cx="207.63" cy="270" r="4.45"/><circle cx="207.63" cy="270" r="3.45" fill="#D3D3D3"/>
<circle cx="211.45" cy="270" r="4.45"/><circle cx="211.45" cy="270" r="3.45" fill="#D3D3D3"/>
<circle cx="226.72" cy="270" r="4.45"/><circle cx="226.72" cy="270" r="3.45" fill="#D3D3D3"/>
<circle cx="238.18" cy="270" r="4.45"/><circle cx="238.18" cy="270" r="3.45" fill="#D3D3D3"/>
<circle cx="253.45" cy="270" r="4.45"/><circle cx="253.45" cy="270" r="3.45" fill="#D3D3D3"/>
<circle cx="268.72" cy="270" r="4.45"/><circle cx="268.72" cy="270" r="3.45" fill="#D3D3D3"/>
<circle cx="280.18" cy="270" r="4.45"/><circle cx="280.18" cy="270" r="3.45" fill="#D3D3D3"/>
<circle cx="291.64" cy="270" r="4.45"/><circle cx="291.64" cy="270" r="3.45" fill="#ECD350"/>
<circle cx="306.91" cy="270" r="4.45"/><circle cx="306.91" cy="270" r="3.45" fill="#D3D3D3"/>
<circle cx="318.37" cy="270" r="4.45"/><circle cx="318.37" cy="270" r="3.45" fill="#D3D3D3"/>
<circle cx="333.64" cy="270" r="4.45"/><circle cx="333.64" cy="270" r="3.45" fill="#ECD350"/>
<circle cx="345.09" cy="270" r="4.45"/><circle cx="345.09" cy="270" r="3.45" fill="#D3D3D3"/>
<circle cx="360.37" cy="270" r="4.45"/><circle cx="360.37" cy="270" r="3.45" fill="#ECD350"/>
<circle cx="371.82" cy="270" r="4.45"/><circle cx="371.82" cy="270" r="3.45" fill="#D3D3D3"/>
<circle cx="387.1" cy="270" r="4.45"/><circle cx="387.1" cy="270" r="3.45" fill="#D3D3D3"/>
<circle cx="398.55" cy="270" r="4.45"/><circle cx="398.55" cy="270" r="3.45" fill="#D3D3D3"/>
<circle cx="413.83" cy="270" r="4.45"/><circle cx="413.83" cy="270" r="3.45" fill="#D3D3D3"/>
<circle cx="425.28" cy="270" r="4.45"/><circle cx="425.28" cy="270" r="3.45" fill="#D3D3D3"/>
<circle cx="440.56" cy="270" r="4.45"/><circle cx="440.56" cy="270" r="3.45" fill="#D3D3D3"/>
<circle cx="494.02" cy="270" r="4.45"/><circle cx="494.02" cy="270" r="3.45" fill="#D3D3D3"/>
<circle cx="520.75" cy="270" r="4.45"/><circle cx="520.75" cy="270" r="3.45" fill="#D3D3D3"/>
<circle cx="104.53" cy="293.28" r="4.45"/><circle cx="104.53" cy="293.28" r="3.45" fill="#FF6666"/>
<circle cx="131.26" cy="293.28" r="4.45"/><circle cx="131.26" cy="293.28" r="3.45" fill="#FF6666"/>
<circle cx="150.35" cy="293.28" r="4.45"/><circle cx="150.35" cy="293.28" r="3.45" fill="#FF6666"/>
<circle cx="161.81" cy="293.28" r="4.45"/><circle cx="161.81" cy="293.28" r="3.45" fill="#FF6666"/>
<circle cx="177.08" cy="293.28" r="4.45"/><circle cx="177.08" cy="293.28" r="3.45" fill="#D3D3D3"/>
<circle cx="184.72" cy="293.28" r="4.45"/><circle cx="184.72" cy="293.28" r="3.45" fill="#ECD350"/>
<circle cx="207.63" cy="293.28" r="4.45"/><circle cx="207.63" cy="293.28" r="3.45" fill="#D3D3D3"/>
<circle cx="211.45" cy="293.28" r="4.45"/><circle cx="211.45" cy="293.28" r="3.45" fill="#D3D3D3"/>
<circle cx="226.72" cy="293.28" r="4.45"/><circle cx="226.72" cy="293.28" r="3.45" fill="#D3D3D3"/>
<circle cx="238.18" cy="293.28" r="4.45"/><circle cx="238.18" cy="293.28" r="3.45" fill="#ECD350"/>
<circle cx="253.45" cy="293.28" r="4.45"/><circle cx="253.45" cy="293.28" r="3.45" fill="#ECD350"/>
<circle cx="268.72" cy="293.28" r="4.45"/><circle cx="268.72" cy="293.28" r="3.45" fill="#D3D3D3"/>
<circle cx="280.18" cy="293.28" r="4.45"/><circle cx="280.18" cy="293.28" r="3.45" fill="#FF6666"/>
<circle cx="291.64" cy="293.28" r="4.45"/><circle cx="291.64" cy="293.28" r="3.45" fill="#D3D3D3"/>
<circle cx="306.91" cy="293.28" r="4.45"/><circle cx="306.91" cy="293.28" r="3.45" fill="#D3D3D3"/>
<circle cx="318.37" cy="293.28" r="4.45"/><circle cx="318.37" cy="293.28" r="3.45" fill="#D3D3D3"/>
<circle cx="333.64" cy="293.28" r="4.45"/><circle cx="333.64" cy="293.28" r="3.45" fill="#D3D3D3"/>
<circle cx="345.09" cy="293.28" r="4.45"/><circle cx="345.09" cy="293.28" r="3.45" fill="#D3D3D3"/>
<circle cx="360.37" cy="293.28" r="4.45"/><circle cx="360.37" cy="293.28" r="3.45" fill="#D3D3D3"/>
<circle cx="371.82" cy="293.28" r="4.45"/><circle cx="371.82" cy="293.28" r="3.45" fill="#D3D3D3"/>
<circle cx="387.1" cy="293.28" r="4.45"/><circle cx="387.1" cy="293.28" r="3.45" fill="#D3D3D3"/>
<circle cx="398.55" cy="293.28" r="4.45"/><circle cx="398.55" cy="293.28" r="3.45" fill="#D3D3D3"/>
<circle cx="413.83" cy="293.28" r="4.45"/><circle cx="413.83" cy="293.28" r="3.45" fill="#D3D3D3"/>
<circle cx="425.28" cy="293.28" r="4.45"/><circle cx="425.28" cy="293.28" r="3.45" fill="#ECD350"/>
<circle cx="440.56" cy="293.28" r="4.45"/><circle cx="440.56" cy="293.28" r="3.45" fill="#D3D3D3"/>
<circle cx="494.02" cy="293.28" r="4.45"/><circle cx="494.02" cy="293.28" r="3.45" fill="#D3D3D3"/>
<circle cx="520.75" cy="293.28" r="4.45"/><circle cx="520.75" cy="293.28" r="3.45" fill="#D3D3D3"/>
<circle cx="104.53" cy="316.56" r="4.45"/><circle cx="104.53" cy="316.56" r="3.45" fill="#FF6666"/>
<circle cx="131.26" cy="316.56" r="4.45"/><circle cx="131.26" cy="316.56" r="3.45" fill="#FF6666"/>
<circle cx="150.35" cy="316.56" r="4.45"/><circle cx="150.35" cy="316.56" r="3.45" fill="#FF6666"/>
<circle cx="161.81" cy="316.56" r="4.45"/><circle cx="161.81" cy="316.56" r="3.45" fill="#FF6666"/>
<circle cx="177.08" cy="316.56" r="4.45"/><circle cx="177.08" cy="316.56" r="3.45" fill="#D3D3D3"/>
<circle cx="184.72" cy="316.56" r="4.45"/><circle cx="184.72" cy="316.56" r="3.45" fill="#ECD350"/>
<circle cx="207.63" cy="316.56" r="4.45"/><circle cx="207.63" cy="316.56" r="3.45" fill="#D3D3D3"/>
<circle cx="211.45" cy="316.56" r="4.45"/><circle cx="211.45" cy="316.56" r="3.45" fill="#D3D3D3"/>
<circle cx="226.72" cy="316.56" r="4.45"/><circle cx="226.72" cy="316.56" r="3.45" fill="#D3D3D3"/>
<circle cx="238.18" cy="316.56" r="4.45"/><circle cx="238.18" cy="316.56" r="3.45" fill="#ECD350"/>
<circle cx="253.45" cy="316.56" r="4.45"/><circle cx="253.45" cy="316.56" r="3.45" fill="#D3D3D3"/>
<circle cx="268.72" cy="316.56" r="4.45"/><circle cx="268.72" cy="316.56" r="3.45" fill="#D3D3D3"/>
<circle cx="280.18" cy="316.56" r="4.45"/><circle cx="280.18" cy="316.56" r="3.45" fill="#D3D3D3"/>
<circle cx="291.64" cy="316.56" r="4.45"/><circle cx="291.64" cy="316.56" r="3.45" fill="#D3D3D3"/>
<circle cx="306.91" cy="316.56" r="4.45"/><circle cx="306.91" cy="316.56" r="3.45" fill="#D3D3D3"/>
<circle cx="318.37" cy="316.56" r="4.45"/><circle cx="318.37" cy="316.56" r="3.45" fill="#D3D3D3"/>
<circle cx="333.64" cy="316.56" r="4.45"/><circle cx="333.64" cy="316.56" r="3.45" fill="#D3D3D3"/>
<circle cx="345.09" cy="316.56" r="4.45"/><circle cx="345.09" cy="316.56" r="3.45" fill="#D3D3D3"/>
<circle cx="360.37" cy="316.56" r="4.45"/><circle cx="360.37" cy="316.56" r="3.45" fill="#D3D3D3"/>
<circle cx="371.82" cy="316.56" r="4.45"/><circle cx="371.82" cy="316.56" r="3.45" fill="#D3D3D3"/>
<circle cx="387.1" cy="316.56" r="4.45"/><circle cx="387.1" cy="316.56" r="3.45" fill="#ECD350"/>
<circle cx="398.55" cy="316.56" r="4.45"/><circle cx="398.55" cy="316.56" r="3.45" fill="#D3D3D3"/>
<circle cx="413.83" cy="316.56" r="4.45"/><circle cx="413.83" cy="316.56" r="3.45" fill="#D3D3D3"/>
<circle cx="425.28" cy="316.56" r="4.45"/><circle cx="425.28" cy="316.56" r="3.45" fill="#D3D3D3"/>
<circle cx="440.56" cy="316.56" r="4.45"/><circle cx="440.56" cy="316.56" r="3.45" fill="#D3D3D3"/>
<circle cx="494.02" cy="316.56" r="4.45"/><circle cx="494.02" cy="316.56" r="3.45" fill="#D3D3D3"/>
<circle cx="520.75" cy="316.56" r="4.45"/><circle cx="520.75" cy="316.56" r="3.45" fill="#D3D3D3"/>
<circle cx="104.53" cy="339.84" r="4.45"/><circle cx="104.53" cy="339.84" r="3.45" fill="#FF6666"/>
<circle cx="131.26" cy="339.84" r="4.45"/><circle cx="131.26" cy="339.84" r="3.45" fill="#FF6666"/>
<circle cx="150.35" cy="339.84" r="4.45"/><circle cx="150.35" cy="339.84" r="3.45" fill="#FF6666"/>
<circle cx="161.81" cy="339.84" r="4.45"/><circle cx="161.81" cy="339.84" r="3.45" fill="#FF6666"/>
<circle cx="177.08" cy="339.84" r="4.45"/><circle cx="177.08" cy="339.84" r="3.45" fill="#D3D3D3"/>
<circle cx="184.72" cy="339.84" r="4.45"/><circle cx="184.72" cy="339.84" r="3.45" fill="#D3D3D3"/>
<circle cx="207.63" cy="339.84" r="4.45"/><circle cx="207.63" cy="339.84" r="3.45" fill="#D3D3D3"/>
<circle cx="211.45" cy="339.84" r="4.45"/><circle cx="211.45" cy="339.84" r="3.45" fill="#D3D3D3"/>
<circle cx="226.72" cy="339.84" r="4.45"/><circle cx="226.72" cy="339.84" r="3.45" fill="#D3D3D3"/>
<circle cx="238.18" cy="339.84" r="4.45"/><circle cx="238.18" cy="339.84" r="3.45" fill="#D3D3D3"/>
<circle cx="253.45" cy="339.84" r="4.45"/><circle cx="253.45" cy="339.84" r="3.45" fill="#D3D3D3"/>
<circle cx="268.72" cy="339.84" r="4.45"/><circle cx="268.72" cy="339.84" r="3.45" fill="#D3D3D3"/>
<circle cx="280.18" cy="339.84" r="4.45"/><circle cx="280.18" cy="339.84" r="3.45" fill="#D3D3D3"/>
<circle cx="291.64" cy="339.84" r="4.45"/><circle cx="291.64" cy="339.84" r="3.45" fill="#D3D3D3"/>
<circle cx="306.91" cy="339.84" r="4.45"/><circle cx="306.91" cy="339.84" r="3.45" fill="#D3D3D3"/>
<circle cx="333.64" cy="339.84" r="4.45"/><circle cx="333.64" cy="339.84" r="3.45" fill="#D3D3D3"/>
<circle cx="360.37" cy="339.84" r="4.45"/><circle cx="360.37" cy="339.84" r="3.45" fill="#D3D3D3"/>
<circle cx="387.1" cy="339.84" r="4.45"/><circle cx="387.1" cy="339.84" r="3.45" fill="#D3D3D3"/>
<circle cx="413.83" cy="339.84" r="4.45"/><circle cx="413.83" cy="339.84" r="3.45" fill="#D3D3D3"/>
<circle cx="440.56" cy="339.84" r="4.45"/><circle cx="440.56" cy="339.84" r="3.45" fill="#D3D3D3"/>
<circle cx="494.02" cy="339.84" r="4.45"/><circle cx="494.02" cy="339.84" r="3.45" fill="#D3D3D3"/>
<circle cx="520.75" cy="339.84" r="4.45"/><circle cx="520.75" cy="339.84" r="3.45" fill="#D3D3D3"/>
<circle cx="77.8" cy="363.13" r="4.45"/><circle cx="77.8" cy="363.13" r="3.45" fill="#FF6666"/>
<circle cx="100.71" cy="363.13" r="4.45"/><circle cx="100.71" cy="363.13" r="3.45" fill="#FF6666"/>
<circle cx="119.8" cy="363.13" r="4.45"/><circle cx="119.8" cy="363.13" r="3.45" fill="#D3D3D3"/>
<circle cx="131.26" cy="363.13" r="4.45"/><circle cx="131.26" cy="363.13" r="3.45" fill="#D3D3D3"/>
<circle cx="150.35" cy="363.13" r="4.45"/><circle cx="150.35" cy="363.13" r="3.45" fill="#D3D3D3"/>
<circle cx="161.81" cy="363.13" r="4.45"/><circle cx="161.81" cy="363.13" r="3.45" fill="#D3D3D3"/>
<circle cx="77.8" cy="386.41" r="4.45"/><circle cx="77.8" cy="386.41" r="3.45" fill="#FF6666"/>
<circle cx="100.71" cy="386.41" r="4.45"/><circle cx="100.71" cy="386.41" r="3.45" fill="#FF6666"/>
<circle cx="119.8" cy="386.41" r="4.45"/><circle cx="119.8" cy="386.41" r="3.45" fill="#ECD350"/>
<circle cx="131.26" cy="386.41" r="4.45"/><circle cx="131.26" cy="386.41" r="3.45" fill="#D3D3D3"/>
<circle cx="150.35" cy="386.41" r="4.45"/><circle cx="150.35" cy="386.41" r="3.45" fill="#D3D3D3"/>
<circle cx="161.81" cy="386.41" r="4.45"/><circle cx="161.81" cy="386.41" r="3.45" fill="#D3D3D3"/>
</g>
<path d="M55.6 -2V400.3H542.8" stroke="#000" stroke-width="1.15" fill="none" stroke-linejoin="miter"/>
<g stroke="#333" stroke-width="1.25">
<path d="M52.85 13.89H55.6"/>
<path d="M52.85 37.17H55.6"/>
<path d="M52.85 60.45H55.6"/>
<path d="M52.85 83.74H55.6"/>
<path d="M52.85 107.02H55.6"/>
<path d="M52.85 130.3H55.6"/>
<path d="M52.85 153.58H55.6"/>
<path d="M52.85 176.87H55.6"/>
<path d="M52.85 200.15H55.6"/>
<path d="M52.85 223.43H55.6"/>
<path d="M52.85 246.71H55.6"/>
<path d="M52.85 270H55.6"/>
<path d="M52.85 293.28H55.6"/>
<path d="M52.85 316.56H55.6"/>
<path d="M52.85 339.84H55.6"/>
<path d="M52.85 363.13H55.6"/>
<path d="M52.85 386.41H55.6"/>
<path d="M77.8 400.3V403.05"/>
<path d="M104.53 400.3V403.05"/>
<path d="M131.26 400.3V403.05"/>
<path d="M157.99 400.3V403.05"/>
<path d="M184.72 400.3V403.05"/>
<path d="M211.45 400.3V403.05"/>
<path d="M238.18 400.3V403.05"/>
<path d="M264.91 400.3V403.05"/>
<path d="M291.64 400.3V403.05"/>
<path d="M318.37 400.3V403.05"/>
<path d="M345.09 400.3V403.05"/>
<path d="M371.82 400.3V403.05"/>
<path d="M398.55 400.3V403.05"/>
<path d="M425.28 400.3V403.05"/>
<path d="M452.01 400.3V403.05"/>
<path d="M478.74 400.3V403.05"/>
<path d="M505.47 400.3V403.05"/>
</g>
<g font-family="Liberation Sans, Arial, Helvetica, sans-serif" font-size="13.25" fill="#4D4D4D" stroke="#4D4D4D" stroke-width="0.15" text-anchor="end">
<text x="50.3" y="18.44">Hyena A</text>
<text x="50.3" y="41.72">Hyena B</text>
<text x="50.3" y="65">Hyena C</text>
<text x="50.3" y="88.29">Hyena D</text>
<text x="50.3" y="111.57">Lion A</text>
<text x="50.3" y="134.85">Lion B</text>
<text x="50.3" y="158.13">Lion C</text>
<text x="50.3" y="181.42">Lion D</text>
<text x="50.3" y="204.7">Lion E</text>
<text x="50.3" y="227.98">Lion F</text>
<text x="50.3" y="251.26">Lion G</text>
<text x="50.3" y="274.55">Lion H</text>
<text x="50.3" y="297.83">Lion I</text>
<text x="50.3" y="321.11">Lion J</text>
<text x="50.3" y="344.39">Lion K</text>
<text x="50.3" y="367.68">Tiger A</text>
<text x="50.3" y="390.96">Tiger B</text>
</g>
<g font-family="Liberation Sans, Arial, Helvetica, sans-serif" font-size="13.05" fill="#4D4D4D" stroke="#4D4D4D" stroke-width="0.15" text-anchor="end">
<text transform="translate(77.8 405.55) rotate(-60)" x="0" y="9.4">Oct 07</text>
<text transform="translate(104.53 405.55) rotate(-60)" x="0" y="9.4">Oct 14</text>
<text transform="translate(131.26 405.55) rotate(-60)" x="0" y="9.4">Oct 21</text>
<text transform="translate(157.99 405.55) rotate(-60)" x="0" y="9.4">Oct 28</text>
<text transform="translate(184.72 405.55) rotate(-60)" x="0" y="9.4">Nov 04</text>
<text transform="translate(211.45 405.55) rotate(-60)" x="0" y="9.4">Nov 11</text>
<text transform="translate(238.18 405.55) rotate(-60)" x="0" y="9.4">Nov 18</text>
<text transform="translate(264.91 405.55) rotate(-60)" x="0" y="9.4">Nov 25</text>
<text transform="translate(291.64 405.55) rotate(-60)" x="0" y="9.4">Dec 02</text>
<text transform="translate(318.37 405.55) rotate(-60)" x="0" y="9.4">Dec 09</text>
<text transform="translate(345.09 405.55) rotate(-60)" x="0" y="9.4">Dec 16</text>
<text transform="translate(371.82 405.55) rotate(-60)" x="0" y="9.4">Dec 23</text>
<text transform="translate(398.55 405.55) rotate(-60)" x="0" y="9.4">Dec 30</text>
<text transform="translate(425.28 405.55) rotate(-60)" x="0" y="9.4">Jan 06</text>
<text transform="translate(452.01 405.55) rotate(-60)" x="0" y="9.4">Jan 13</text>
<text transform="translate(478.74 405.55) rotate(-60)" x="0" y="9.4">Jan 20</text>
<text transform="translate(505.47 405.55) rotate(-60)" x="0" y="9.4">Jan 27</text>
</g>
<g font-family="Liberation Sans, Arial, Helvetica, sans-serif" fill="#000" stroke="#000" stroke-width="0.15">
<text x="561.3" y="141.6" font-size="15.3">qRT−PCR Result</text>
<circle cx="570.5" cy="159.7" r="4.45" stroke="none"/><circle cx="570.5" cy="159.7" r="3.45" fill="#FF6666" stroke="none"/>
<text x="586.1" y="164.4" font-size="13">Positive</text>
<circle cx="570.5" cy="178.75" r="4.45" stroke="none"/><circle cx="570.5" cy="178.75" r="3.45" fill="#ECD350" stroke="none"/>
<text x="586.1" y="183.45" font-size="13">Inconclusive</text>
<circle cx="570.5" cy="197.8" r="4.45" stroke="none"/><circle cx="570.5" cy="197.8" r="3.45" fill="#D3D3D3" stroke="none"/>
<text x="586.1" y="202.5" font-size="13">Negative</text>
<path d="M570.56 253.05L578.51 261L570.56 268.95L562.61 261Z" stroke="#6666FF" stroke-width="2.55" fill="none" stroke-linejoin="round"/>
<text x="586.1" y="265.5" font-size="13">Sequence data</text>
</g>
</svg>
</body></html>
